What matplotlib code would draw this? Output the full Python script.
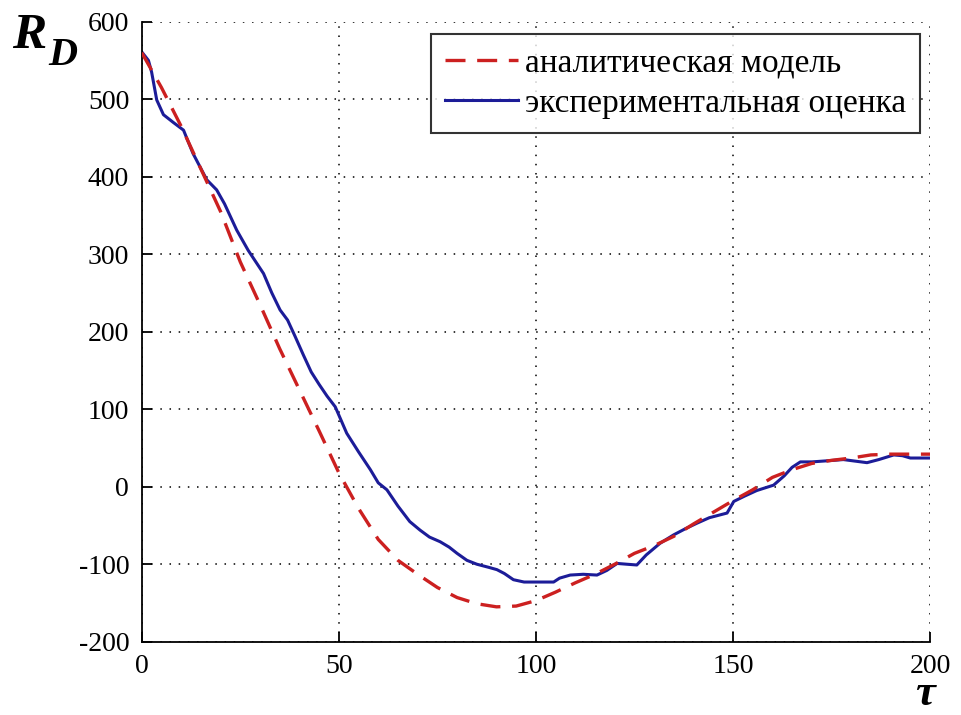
import numpy as np
import matplotlib
matplotlib.use("Agg")
import matplotlib.pyplot as plt

# analytic model (smooth)
tau_model = [0, 5, 10, 15, 20, 25, 30, 35, 40, 45, 50, 55, 60, 65, 70, 75, 80,
             85, 90, 95, 100, 105, 110, 115, 120, 125, 130, 135, 140, 145, 150,
             155, 160, 165, 170, 175, 180, 185, 190, 195, 200]
r_model = [560, 515, 465, 410, 355, 290, 235, 178, 125, 72, 18, -28, -68, -95,
           -113, -130, -143, -151, -155, -154, -147, -136, -124, -113, -100,
           -86, -76, -64, -48, -33, -18, -4, 12, 22, 30, 34, 37, 41, 42, 42, 42]

# experimental estimate (jagged)
tau_exp = [0, 1.7, 2.5, 3.8, 5.5, 8, 10.6, 13, 16.5, 19, 21, 24.1, 27, 30.9, 33,
           35.1, 37, 38.9, 41, 43, 45, 47, 49.1, 52, 55, 58, 60, 62.2, 65, 68,
           70.6, 73, 75.7, 78, 80, 82.5, 85, 88, 90.1, 92, 94.3, 97, 100, 104.5,
           106, 108.7, 112, 115.5, 118, 120.6, 123, 125.6, 128, 131.5, 135, 138,
           140.9, 144, 148.5, 150.2, 153, 156, 160.3, 163, 165, 167.1, 170,
           175.5, 178, 181, 184, 187, 190.8, 193, 195, 200]
r_exp = [561, 550, 535, 499, 480, 470, 460, 430, 396, 383, 365, 331, 305, 275,
         250, 228, 215, 194, 170, 148, 132, 117, 103, 69, 45, 22, 5, -4, -25,
         -45, -56, -65, -71, -78, -86, -95, -100, -104, -107, -112, -120, -123,
         -123, -123, -118, -114, -113, -114, -108, -99, -100, -101, -88, -73,
         -62, -54, -47, -40, -34, -19, -12, -5, 2, 14, 25, 32, 32, 34, 35, 33,
         31, 35, 41, 40, 37, 37]

labels = ['аналитическая модель', 'экспериментальная оценка']

plt.rcParams['font.family'] = ['Liberation Serif', 'DejaVu Serif']
plt.rcParams['axes.unicode_minus'] = False

fig = plt.figure(figsize=(9.61, 7.15), dpi=100)
ax = fig.add_axes([0.1475, 0.1025, 0.8203, 0.8672])

ax.plot(tau_model, r_model, color='#cc2020', lw=2.4, ls=(0, (6, 3.5)),
        label=labels[0], zorder=3)
ax.plot(tau_exp, r_exp, color='#1c1c98', lw=2.2, label=labels[1], zorder=2)

ax.set_xlim(0, 200)
ax.set_ylim(-200, 600)
ax.set_xticks(np.arange(0, 201, 50))
ax.set_yticks(np.arange(-200, 601, 100))
ax.grid(True, color='black', ls=(0, (1, 5)), lw=1.1)
ax.spines['top'].set_visible(False)
ax.spines['right'].set_visible(False)
ax.spines['left'].set_linewidth(1.3)
ax.spines['bottom'].set_linewidth(1.3)
ax.tick_params(direction='in', length=7, width=1.3, labelsize=20, pad=9)

leg = ax.legend(loc='upper right', bbox_to_anchor=(0.987, 0.980), fontsize=24,
                frameon=True, fancybox=False, handlelength=2.2,
                handletextpad=0.2, borderpad=0.42, labelspacing=0.3,
                borderaxespad=0)
leg.get_frame().set_edgecolor('black')
leg.get_frame().set_linewidth(1.5)

fig.text(12 / 961, 1 - 48 / 715, 'R', fontsize=37, fontweight='bold',
         fontstyle='italic', ha='left', va='baseline')
fig.text(48 / 961, 1 - 65 / 715, 'D', fontsize=29, fontweight='bold',
         fontstyle='italic', ha='left', va='baseline')
fig.text(925 / 961, 1 / 715, 'τ', fontsize=32, fontweight='bold',
         fontstyle='italic', ha='center', va='bottom')

fig.savefig('out.png', dpi=100)
